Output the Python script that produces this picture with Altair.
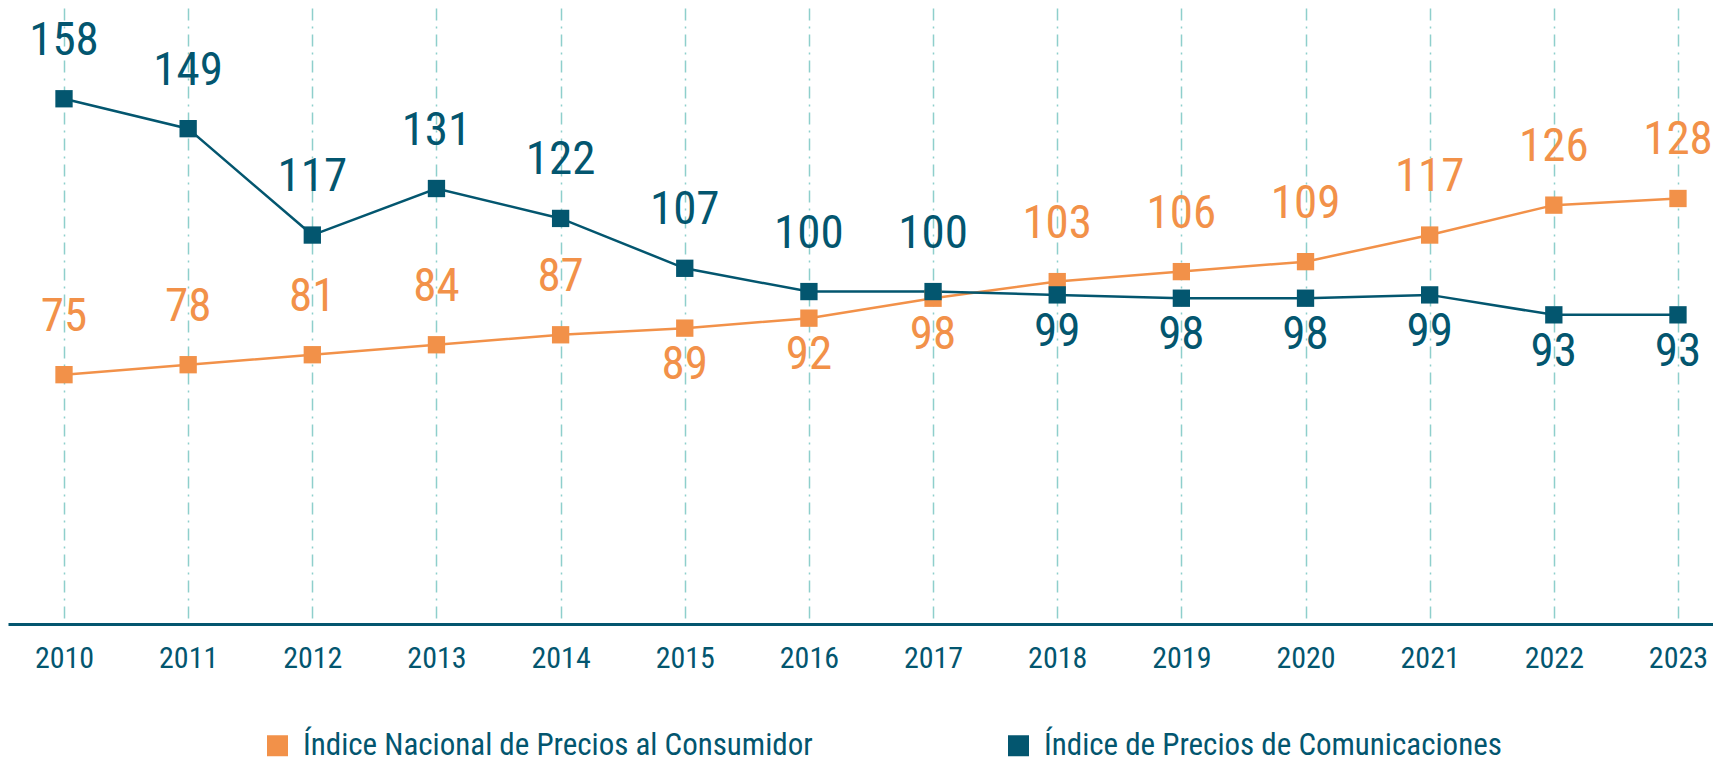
import altair as alt
import pandas as pd

years = [2010, 2011, 2012, 2013, 2014, 2015, 2016, 2017, 2018, 2019, 2020, 2021, 2022, 2023]
inpc = [75, 78, 81, 84, 87, 89, 92, 98, 103, 106, 109, 117, 126, 128]
ipcom = [158, 149, 117, 131, 122, 107, 100, 100, 99, 98, 98, 99, 93, 93]
s_inpc = "Índice Nacional de Precios al Consumidor"
s_ipcom = "Índice de Precios de Comunicaciones"
inpc_below_years = [2015, 2016, 2017]
ipcom_below_years = [2018, 2019, 2020, 2021, 2022, 2023]

ORANGE = "#F29149"
BLUE = "#03566F"
FONT = "Liberation Sans Narrow, Roboto Condensed, Arial Narrow, Roboto, sans-serif"

rows = []
for y, v in zip(years, inpc):
    rows.append({"year": y, "series": s_inpc, "value": v,
                 "pos": "below" if y in inpc_below_years else "above"})
for y, v in zip(years, ipcom):
    rows.append({"year": y, "series": s_ipcom, "value": v,
                 "pos": "below" if y in ipcom_below_years else "above"})
df = pd.DataFrame(rows)

color = alt.Color(
    "series:N",
    scale=alt.Scale(domain=[s_inpc, s_ipcom], range=[ORANGE, BLUE]),
    legend=alt.Legend(
        title=None, orient="none", direction="horizontal",
        legendX=254, legendY=722,
        symbolType="square", symbolSize=441, symbolStrokeWidth=0,
        symbolOpacity=1, symbolFillColor=None,
        labelFont=FONT, labelFontSize=31, labelColor=BLUE,
        labelOffset=10, columnPadding=190, labelLimit=700,
    ),
)

x = alt.X(
    "year:Q",
    scale=alt.Scale(domain=[2009.5489, 2023.2821], nice=False, zero=False),
    axis=alt.Axis(
        values=years, format="d", title=None,
        grid=True, gridColor="#8ECFCC", gridDash=[12, 6, 2, 6], gridWidth=1.5,
        ticks=False, tickSize=0, labelPadding=19,
        labelFont=FONT, labelFontSize=30, labelColor=BLUE,
        domainColor=BLUE, domainWidth=3,
    ),
)
y = alt.Y("value:Q", scale=alt.Scale(domain=[0, 185.3], nice=False), axis=None)

base = alt.Chart(df).encode(x=x, y=y, color=color)

lines = base.mark_line(strokeWidth=2.5)
points = base.mark_point(shape="square", size=300, filled=True, opacity=1)
labels_above = base.mark_text(dy=-58, fontSize=47, font=FONT, baseline="middle").encode(
    text="value:Q").transform_filter(alt.datum.pos == "above")
labels_below = base.mark_text(dy=37, fontSize=47, font=FONT, baseline="middle").encode(
    text="value:Q").transform_filter(alt.datum.pos == "below")

chart = alt.layer(lines, points, labels_above, labels_below).properties(
    width=1705, height=616,
    autosize=alt.AutoSizeParams(type="none"),
    padding={"left": 0, "top": 0, "right": 0, "bottom": 140},
).configure_view(stroke=None)

chart.save("out.html", embed_options={"renderer": "svg", "actions": False})
